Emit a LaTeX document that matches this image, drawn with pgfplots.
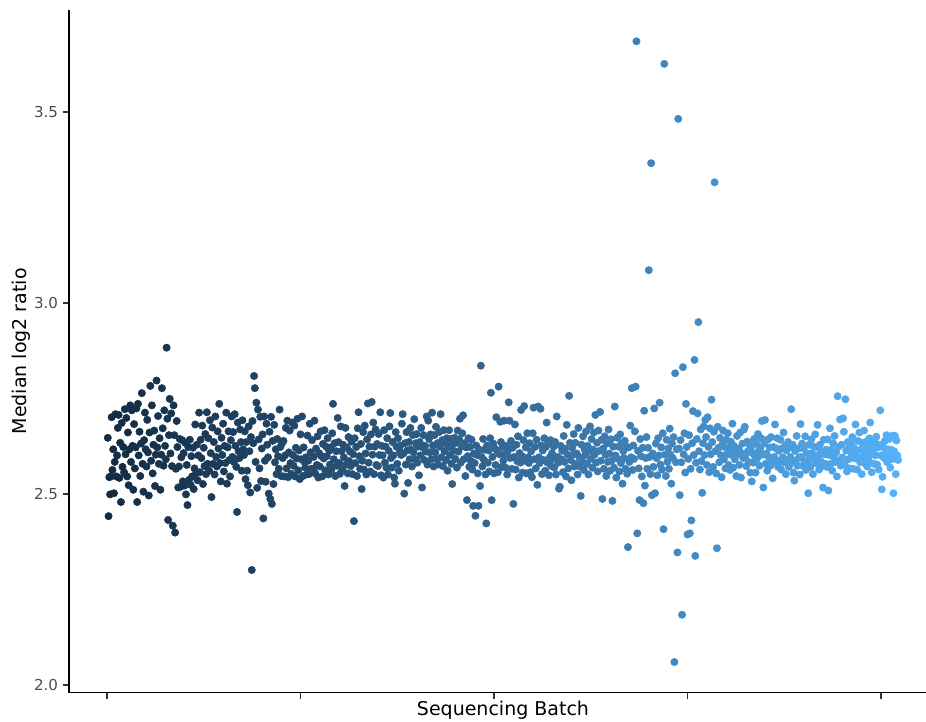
\documentclass[border=0pt]{standalone}
\usepackage{fontspec}
\setmainfont{DejaVu Sans}
\usepackage{pgfplots}
\pgfplotsset{compat=1.18}

\definecolor{ticktext}{RGB}{77,77,77}
\definecolor{tickline}{RGB}{51,51,51}

\pgfplotsset{
  colormap={batchgrad}{rgb255=(19,43,67) rgb255=(50,104,150) rgb255=(86,177,247)}
}

\begin{document}
\begin{tikzpicture}
\begin{axis}[
  scale only axis,
  width=642.75pt, height=511.95pt,
  xmin=-49.1, xmax=1058.1,
  ymin=1.9801, ymax=3.767,
  axis lines*=left,
  axis line style={line width=1.1pt, black},
  tick align=outside,
  major tick length=4.5pt,
  tick style={line width=0.8pt, tickline},
  xtick={0,250,500,750,1000},
  xticklabels={},
  ytick={2.0,2.5,3.0,3.5},
  yticklabel style={font=\fontsize{11.3pt}{13pt}\selectfont, text=ticktext, inner sep=0pt, xshift=-3.55pt},
  /pgf/number format/assume math mode=true,
  yticklabel={\pgfmathprintnumber[fixed, fixed zerofill, precision=1]{\tick}},
  xlabel={Sequencing Batch},
  ylabel={Median log2 ratio},
  label style={font=\fontsize{14.25pt}{16pt}\selectfont},
  xlabel style={at={(axis description cs:0.5064,-0.0265)}, anchor=center},
  ylabel style={at={(axis description cs:-0.056,0.5)}, anchor=center},
  colormap name=batchgrad,
  point meta min=1, point meta max=1022,
  clip=false,
]
\addplot[scatter, only marks, mark=*, mark size=2.75pt, point meta=x,
  scatter/use mapped color={draw=mapped color, fill=mapped color}]
coordinates {
(1,2.647) (2,2.442) (3,2.544) (4,2.499) (5,2.546) (6,2.701) (7,2.563) (8,2.617) (9,2.502) (10,2.584) (11,2.709) (12,2.546) (13,2.601) (14,2.673) (15,2.707) (16,2.542)
(17,2.634) (18,2.479) (19,2.686) (20,2.571) (21,2.623) (22,2.557) (23,2.722) (24,2.604) (25,2.699) (26,2.546) (27,2.661) (28,2.523) (29,2.617) (30,2.732) (31,2.584) (32,2.719)
(33,2.626) (34,2.511) (35,2.683) (36,2.567) (37,2.622) (38,2.724) (39,2.479) (40,2.736) (41,2.601) (42,2.663) (43,2.547) (44,2.632) (45,2.764) (46,2.579) (47,2.506) (48,2.641)
(49,2.713) (50,2.617) (51,2.572) (52,2.694) (53,2.609) (54,2.496) (55,2.661) (56,2.783) (57,2.587) (58,2.732) (59,2.554) (60,2.629) (61,2.666) (62,2.521) (63,2.603) (64,2.797)
(65,2.622) (66,2.704) (67,2.579) (68,2.646) (69,2.511) (70,2.603) (71,2.777) (72,2.672) (73,2.574) (74,2.719) (75,2.626) (76,2.591) (77,2.883) (78,2.697) (79,2.432) (80,2.654)
(81,2.749) (82,2.606) (83,2.711) (84,2.573) (85,2.417) (86,2.732) (87,2.654) (88,2.399) (89,2.566) (90,2.691) (91,2.623) (92,2.517) (93,2.572) (94,2.644) (95,2.519) (96,2.596)
(97,2.641) (98,2.533) (99,2.607) (100,2.522) (101,2.634) (102,2.499) (103,2.576) (104,2.471) (105,2.623) (106,2.537) (107,2.642) (108,2.524) (109,2.599) (110,2.546) (111,2.621) (112,2.513)
(113,2.567) (114,2.682) (115,2.554) (116,2.629) (117,2.536) (118,2.601) (119,2.713) (120,2.557) (121,2.642) (122,2.594) (123,2.679) (124,2.526) (125,2.621) (126,2.573) (127,2.657) (128,2.552)
(129,2.714) (130,2.579) (131,2.646) (132,2.561) (133,2.693) (134,2.607) (135,2.492) (136,2.674) (137,2.579) (138,2.636) (139,2.551) (140,2.703) (141,2.597) (142,2.572) (143,2.664) (144,2.619)
(145,2.736) (146,2.581) (147,2.533) (148,2.647) (149,2.602) (150,2.684) (151,2.559) (152,2.626) (153,2.581) (154,2.713) (155,2.527) (156,2.622) (157,2.664) (158,2.589) (159,2.546) (160,2.641)
(161,2.703) (162,2.597) (163,2.662) (164,2.584) (165,2.709) (166,2.626) (167,2.571) (168,2.453) (169,2.687) (170,2.612) (171,2.594) (172,2.669) (173,2.636) (174,2.561) (175,2.693) (176,2.617)
(177,2.602) (178,2.664) (179,2.539) (180,2.636) (181,2.561) (182,2.523) (183,2.677) (184,2.612) (185,2.504) (186,2.649) (187,2.301) (188,2.691) (189,2.633) (190,2.809) (191,2.777) (192,2.584)
(193,2.739) (194,2.516) (195,2.721) (196,2.643) (197,2.567) (198,2.702) (199,2.534) (200,2.619) (201,2.656) (202,2.436) (203,2.703) (204,2.587) (205,2.532) (206,2.684) (207,2.629) (208,2.596)
(209,2.501) (210,2.663) (211,2.487) (212,2.702) (213,2.474) (214,2.639) (215,2.526) (216,2.681) (217,2.583) (218,2.617) (219,2.552) (220,2.644) (221,2.599) (222,2.566) (223,2.721) (224,2.623)
(225,2.547) (226,2.632) (227,2.594) (228,2.639) (229,2.546) (230,2.601) (231,2.673) (232,2.567) (233,2.692) (234,2.544) (235,2.609) (236,2.666) (237,2.581) (238,2.553) (239,2.687) (240,2.602)
(241,2.574) (242,2.679) (243,2.546) (244,2.621) (245,2.593) (246,2.697) (247,2.562) (248,2.614) (249,2.539) (250,2.656) (251,2.591) (252,2.703) (253,2.547) (254,2.622) (255,2.584) (256,2.569)
(257,2.596) (258,2.551) (259,2.653) (260,2.587) (261,2.552) (262,2.684) (263,2.609) (264,2.566) (265,2.641) (266,2.563) (267,2.597) (268,2.692) (269,2.554) (270,2.619) (271,2.576) (272,2.651)
(273,2.543) (274,2.607) (275,2.572) (276,2.664) (277,2.599) (278,2.546) (279,2.631) (280,2.593) (281,2.667) (282,2.562) (283,2.624) (284,2.599) (285,2.646) (286,2.551) (287,2.613) (288,2.577)
(289,2.622) (290,2.564) (291,2.659) (292,2.736) (293,2.591) (294,2.633) (295,2.547) (296,2.612) (297,2.574) (298,2.699) (299,2.636) (300,2.581) (301,2.553) (302,2.677) (303,2.612) (304,2.564)
(305,2.629) (306,2.596) (307,2.521) (308,2.673) (309,2.577) (310,2.622) (311,2.554) (312,2.649) (313,2.586) (314,2.611) (315,2.573) (316,2.637) (317,2.552) (318,2.604) (319,2.429) (320,2.646)
(321,2.581) (322,2.623) (323,2.547) (324,2.672) (325,2.714) (326,2.599) (327,2.566) (328,2.631) (329,2.513) (330,2.587) (331,2.662) (332,2.564) (333,2.679) (334,2.606) (335,2.551) (336,2.643)
(337,2.737) (338,2.582) (339,2.624) (340,2.559) (341,2.656) (342,2.741) (343,2.603) (344,2.687) (345,2.552) (346,2.624) (347,2.669) (348,2.576) (349,2.631) (350,2.573) (351,2.657) (352,2.602)
(353,2.714) (354,2.549) (355,2.626) (356,2.601) (357,2.543) (358,2.667) (359,2.582) (360,2.624) (361,2.569) (362,2.646) (363,2.551) (364,2.613) (365,2.677) (366,2.712) (367,2.594) (368,2.569)
(369,2.636) (370,2.601) (371,2.543) (372,2.527) (373,2.662) (374,2.624) (375,2.579) (376,2.646) (377,2.561) (378,2.613) (379,2.627) (380,2.602) (381,2.684) (382,2.709) (383,2.606) (384,2.501)
(385,2.633) (386,2.577) (387,2.662) (388,2.614) (389,2.529) (390,2.636) (391,2.591) (392,2.673) (393,2.617) (394,2.572) (395,2.654) (396,2.609) (397,2.696) (398,2.591) (399,2.633) (400,2.657)
(401,2.582) (402,2.624) (403,2.549) (404,2.636) (405,2.601) (406,2.673) (407,2.517) (408,2.622) (409,2.654) (410,2.589) (411,2.626) (412,2.611) (413,2.703) (414,2.577) (415,2.692) (416,2.644)
(417,2.609) (418,2.656) (419,2.591) (420,2.713) (421,2.627) (422,2.572) (423,2.654) (424,2.609) (425,2.676) (426,2.591) (427,2.633) (428,2.577) (429,2.662) (430,2.624) (431,2.709) (432,2.596)
(433,2.641) (434,2.573) (435,2.667) (436,2.612) (437,2.634) (438,2.589) (439,2.646) (440,2.561) (441,2.623) (442,2.667) (443,2.602) (444,2.644) (445,2.579) (446,2.526) (447,2.631) (448,2.613)
(449,2.647) (450,2.592) (451,2.634) (452,2.569) (453,2.666) (454,2.611) (455,2.643) (456,2.697) (457,2.582) (458,2.624) (459,2.659) (460,2.706) (461,2.591) (462,2.633) (463,2.547) (464,2.622)
(465,2.484) (466,2.599) (467,2.646) (468,2.571) (469,2.623) (470,2.587) (471,2.642) (472,2.564) (473,2.469) (474,2.606) (475,2.581) (476,2.443) (477,2.627) (478,2.602) (479,2.554) (480,2.469)
(481,2.616) (482,2.521) (483,2.836) (484,2.597) (485,2.572) (486,2.644) (487,2.589) (488,2.616) (489,2.551) (490,2.423) (491,2.627) (492,2.582) (493,2.614) (494,2.559) (495,2.646) (496,2.765)
(497,2.484) (498,2.597) (499,2.632) (500,2.554) (501,2.619) (502,2.576) (503,2.701) (504,2.613) (505,2.557) (506,2.781) (507,2.604) (508,2.689) (509,2.636) (510,2.571) (511,2.623) (512,2.587)
(513,2.692) (514,2.604) (515,2.569) (516,2.626) (517,2.551) (518,2.613) (519,2.740) (520,2.692) (521,2.594) (522,2.639) (523,2.566) (524,2.621) (525,2.474) (526,2.597) (527,2.682) (528,2.564)
(529,2.629) (530,2.586) (531,2.651) (532,2.543) (533,2.607) (534,2.582) (535,2.720) (536,2.599) (537,2.556) (538,2.641) (539,2.730) (540,2.587) (541,2.622) (542,2.554) (543,2.659) (544,2.596)
(545,2.581) (546,2.633) (547,2.557) (548,2.612) (549,2.544) (550,2.659) (551,2.726) (552,2.591) (553,2.623) (554,2.567) (555,2.642) (556,2.524) (557,2.729) (558,2.596) (559,2.581) (560,2.723)
(561,2.627) (562,2.552) (563,2.614) (564,2.589) (565,2.646) (566,2.561) (567,2.623) (568,2.687) (569,2.582) (570,2.634) (571,2.549) (572,2.596) (573,2.641) (574,2.573) (575,2.607) (576,2.592)
(577,2.624) (578,2.569) (579,2.636) (580,2.551) (581,2.703) (582,2.597) (583,2.582) (584,2.514) (585,2.519) (586,2.626) (587,2.591) (588,2.613) (589,2.557) (590,2.652) (591,2.584) (592,2.619)
(593,2.546) (594,2.681) (595,2.603) (596,2.567) (597,2.757) (598,2.634) (599,2.589) (600,2.536) (601,2.621) (602,2.603) (603,2.657) (604,2.572) (605,2.634) (606,2.579) (607,2.606) (608,2.551)
(609,2.673) (610,2.597) (611,2.572) (612,2.495) (613,2.629) (614,2.586) (615,2.651) (616,2.563) (617,2.617) (618,2.602) (619,2.664) (620,2.579) (621,2.626) (622,2.551) (623,2.613) (624,2.677)
(625,2.592) (626,2.644) (627,2.569) (628,2.616) (629,2.661) (630,2.603) (631,2.707) (632,2.582) (633,2.634) (634,2.559) (635,2.666) (636,2.613) (637,2.715) (638,2.587) (639,2.642) (640,2.487)
(641,2.619) (642,2.566) (643,2.651) (644,2.603) (645,2.547) (646,2.632) (647,2.584) (648,2.669) (649,2.606) (650,2.561) (651,2.643) (652,2.587) (653,2.482) (654,2.624) (655,2.569) (656,2.729)
(657,2.601) (658,2.543) (659,2.647) (660,2.592) (661,2.624) (662,2.559) (663,2.656) (664,2.581) (665,2.633) (666,2.527) (667,2.612) (668,2.594) (669,2.639) (670,2.566) (671,2.621) (672,2.553)
(673,2.361) (674,2.622) (675,2.584) (676,2.679) (677,2.596) (678,2.777) (679,2.563) (680,2.627) (681,2.592) (682,2.664) (683,2.781) (684,3.685) (685,2.397) (686,2.613) (687,2.567) (688,2.484)
(689,2.644) (690,2.599) (691,2.546) (692,2.621) (693,2.476) (694,2.718) (695,2.522) (696,2.594) (697,2.649) (698,2.566) (699,2.621) (700,3.086) (701,2.597) (702,2.552) (703,3.366) (704,2.497)
(705,2.606) (706,2.571) (707,2.724) (708,2.502) (709,2.632) (710,2.594) (711,2.549) (712,2.646) (713,2.601) (714,2.739) (715,2.577) (716,2.622) (717,2.564) (718,2.659) (719,2.408) (720,3.626)
(721,2.603) (722,2.547) (723,2.642) (724,2.584) (725,2.619) (726,2.566) (727,2.671) (728,2.603) (729,2.527) (730,2.632) (731,2.594) (732,2.649) (733,2.060) (734,2.816) (735,2.583) (736,2.617)
(737,2.347) (738,3.482) (739,2.619) (740,2.497) (741,2.641) (742,2.583) (743,2.184) (744,2.832) (745,2.604) (746,2.659) (747,2.556) (748,2.736) (749,2.623) (750,2.394) (751,2.592) (752,2.654)
(753,2.397) (754,2.566) (755,2.431) (756,2.633) (757,2.717) (758,2.602) (759,2.851) (760,2.338) (761,2.582) (762,2.644) (763,2.711) (764,2.950) (765,2.612) (766,2.564) (767,2.669) (768,2.586)
(769,2.503) (770,2.633) (771,2.677) (772,2.602) (773,2.694) (774,2.649) (775,2.576) (776,2.701) (777,2.623) (778,2.557) (779,2.672) (780,2.604) (781,2.747) (782,2.636) (783,2.571) (784,2.663)
(785,3.316) (786,2.612) (787,2.554) (788,2.358) (789,2.676) (790,2.621) (791,2.583) (792,2.647) (793,2.602) (794,2.544) (795,2.629) (796,2.666) (797,2.591) (798,2.623) (799,2.567) (800,2.642)
(801,2.604) (802,2.659) (803,2.576) (804,2.621) (805,2.563) (806,2.637) (807,2.602) (808,2.684) (809,2.569) (810,2.626) (811,2.591) (812,2.613) (813,2.547) (814,2.652) (815,2.604) (816,2.619)
(817,2.576) (818,2.661) (819,2.543) (820,2.607) (821,2.632) (822,2.594) (823,2.669) (824,2.676) (825,2.601) (826,2.573) (827,2.637) (828,2.612) (829,2.584) (830,2.629) (831,2.556) (832,2.621)
(833,2.533) (834,2.607) (835,2.582) (836,2.644) (837,2.599) (838,2.556) (839,2.631) (840,2.593) (841,2.657) (842,2.612) (843,2.574) (844,2.619) (845,2.646) (846,2.691) (847,2.603) (848,2.517)
(849,2.632) (850,2.694) (851,2.579) (852,2.606) (853,2.561) (854,2.643) (855,2.597) (856,2.622) (857,2.574) (858,2.649) (859,2.586) (860,2.541) (861,2.623) (862,2.597) (863,2.682) (864,2.584)
(865,2.619) (866,2.646) (867,2.571) (868,2.613) (869,2.587) (870,2.642) (871,2.564) (872,2.619) (873,2.596) (874,2.661) (875,2.583) (876,2.627) (877,2.552) (878,2.614) (879,2.589) (880,2.636)
(881,2.571) (882,2.623) (883,2.597) (884,2.722) (885,2.584) (886,2.629) (887,2.556) (888,2.535) (889,2.613) (890,2.587) (891,2.652) (892,2.574) (893,2.619) (894,2.596) (895,2.551) (896,2.683)
(897,2.597) (898,2.632) (899,2.574) (900,2.619) (901,2.586) (902,2.651) (903,2.563) (904,2.607) (905,2.582) (906,2.502) (907,2.629) (908,2.596) (909,2.571) (910,2.643) (911,2.607) (912,2.552)
(913,2.624) (914,2.589) (915,2.656) (916,2.581) (917,2.623) (918,2.681) (919,2.602) (920,2.564) (921,2.629) (922,2.586) (923,2.611) (924,2.573) (925,2.517) (926,2.642) (927,2.604) (928,2.579)
(929,2.616) (930,2.571) (931,2.643) (932,2.509) (933,2.602) (934,2.672) (935,2.579) (936,2.616) (937,2.561) (938,2.633) (939,2.597) (940,2.652) (941,2.584) (942,2.609) (943,2.546) (944,2.756)
(945,2.623) (946,2.587) (947,2.695) (948,2.574) (949,2.629) (950,2.596) (951,2.698) (952,2.663) (953,2.577) (954,2.748) (955,2.614) (956,2.559) (957,2.636) (958,2.591) (959,2.623) (960,2.567)
(961,2.632) (962,2.604) (963,2.649) (964,2.566) (965,2.621) (966,2.593) (967,2.682) (968,2.612) (969,2.564) (970,2.639) (971,2.596) (972,2.661) (973,2.583) (974,2.617) (975,2.552) (976,2.634)
(977,2.599) (978,2.666) (979,2.581) (980,2.613) (981,2.637) (982,2.572) (983,2.624) (984,2.589) (985,2.646) (986,2.687) (987,2.603) (988,2.557) (989,2.632) (990,2.614) (991,2.579) (992,2.636)
(993,2.601) (994,2.650) (995,2.577) (996,2.622) (997,2.564) (998,2.629) (999,2.719) (1000,2.601) (1001,2.512) (1002,2.545) (1003,2.622) (1004,2.594) (1005,2.639) (1006,2.606) (1007,2.654) (1008,2.583)
(1009,2.617) (1010,2.602) (1011,2.644) (1012,2.569) (1013,2.616) (1014,2.591) (1015,2.653) (1016,2.502) (1017,2.612) (1018,2.652) (1019,2.552) (1020,2.640) (1021,2.601) (1022,2.589)
};
\end{axis}
\pgfresetboundingbox
\useasboundingbox (-51.75pt,-22.05pt) rectangle (642.75pt,519.45pt);
\end{tikzpicture}
\end{document}
